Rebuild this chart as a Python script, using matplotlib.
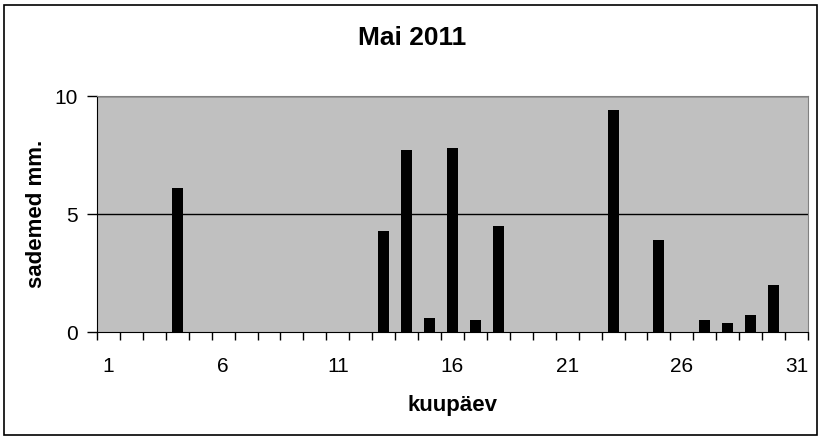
import numpy as np
import matplotlib.pyplot as plt
from matplotlib.patches import Rectangle

plt.rcParams["font.family"] = ["Liberation Sans", "DejaVu Sans"]

days = list(range(1, 32))
rain = [0, 0, 0, 6.1, 0, 0, 0, 0, 0, 0, 0, 0, 4.3, 7.7, 0.6, 7.8, 0.5, 4.5,
        0, 0, 0, 0, 9.4, 0, 3.9, 0, 0.5, 0.4, 0.7, 2.0, 0]
xlabels = [1, 6, 11, 16, 21, 26, 31]
yticks = [0, 5, 10]

fig = plt.figure(figsize=(8.24, 4.38), dpi=100)
ax = fig.add_axes([97/824, 1 - 332/438, 711/824, 236/438])
ax.set_facecolor("#c0c0c0")

x = np.arange(len(days))
ax.bar(x, rain, width=0.48, color="black", zorder=3)

ax.set_xlim(-0.5, len(days) - 0.5)
ax.set_ylim(0, 10)
for y in yticks[1:]:
    ax.axhline(y, color="black", lw=1, zorder=2)

ax.set_yticks(yticks)
ax.set_yticklabels([str(v) for v in yticks], fontsize=15)
ax.set_xticks(np.arange(len(days) + 1) - 0.5, minor=False)
ax.set_xticklabels([""] * (len(days) + 1))
ax.set_xticks([days.index(d) for d in xlabels], minor=True)
ax.set_xticklabels([str(d) for d in xlabels], minor=True, fontsize=15)
ax.tick_params(axis="x", which="major", direction="out", length=6, width=1)
ax.tick_params(axis="x", which="minor", length=0, pad=18)
ax.tick_params(axis="y", direction="out", length=7, width=1, pad=7)

ax.spines["top"].set_color("#808080")
ax.spines["right"].set_color("#808080")
ax.spines["left"].set_color("black")
ax.spines["bottom"].set_color("black")

ax.set_ylabel("sademed mm.", fontsize=16, fontweight="bold", labelpad=5)
ax.set_xlabel("kuupäev", fontsize=16, fontweight="bold", labelpad=14)
fig.text(0.5, 1 - 38/438, "Mai 2011", ha="center", va="center",
         fontsize=19, fontweight="bold")

fig.patches.append(Rectangle((4/824, 1 - 435/438), 813/824, 430/438,
                             transform=fig.transFigure, fill=False,
                             edgecolor="black", lw=1.2))

fig.savefig("out.png", dpi=100)
